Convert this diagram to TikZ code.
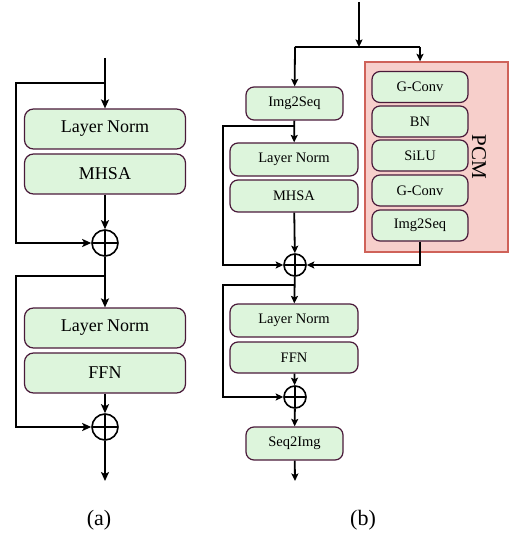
\documentclass[tikz,border=0pt]{standalone}
\usepackage{fontspec}
\setmainfont{Liberation Serif}
\usetikzlibrary{arrows.meta}
\definecolor{boxfill}{HTML}{DDF5DC}
\definecolor{boxline}{HTML}{4A1A3A}
\definecolor{pcmfill}{HTML}{F7CFCB}
\definecolor{pcmline}{HTML}{CF6259}
\tikzset{
  blk/.style={draw=boxline, fill=boxfill, rounded corners=9pt, line width=1.2pt, inner sep=0pt},
  blka/.style={blk, minimum width=161pt, minimum height=40pt, font=\fontsize{18}{20}\selectfont},
  blkb/.style={blk, minimum height=33pt, font=\fontsize{14.5}{16}\selectfont, rounded corners=8pt},
  blkp/.style={blk, minimum width=96pt, minimum height=31pt, font=\fontsize{14.5}{16}\selectfont, rounded corners=8pt},
  arr/.style={line width=2pt, -{Stealth[length=9pt,width=8pt,inset=2pt]}},
  arrb/.style={line width=1.8pt, -{Stealth[length=7.5pt,width=7pt,inset=1.5pt]}},
  ln/.style={line width=2pt},
  lnb/.style={line width=1.8pt},
  opl/.style={circle, draw, line width=1.6pt, inner sep=0pt, fill=white,
    path picture={\draw[line width=1.6pt] (path picture bounding box.north) -- (path picture bounding box.south)
      (path picture bounding box.west) -- (path picture bounding box.east);}},
  opla/.style={opl, minimum size=26pt},
  oplb/.style={opl, minimum size=22pt},
  captxt/.style={font=\fontsize{22}{24}\selectfont}
}
\begin{document}
\begin{tikzpicture}[x=1pt,y=-1pt]
\useasboundingbox (0,0) rectangle (510,534);
% ---------- (a) ----------
\node[blka] (ln1) at (105,129) {Layer Norm};
\node[blka] (mh1) at (105,174) {MHSA};
\node[opla] (p1) at (105,243) {};
\node[blka] (ln2) at (105,328) {Layer Norm};
\node[blka] (ffn) at (105,373) {FFN};
\node[opla] (p2) at (105,427) {};
\coordinate (atop) at (105,58);
\coordinate (ain) at (105,83);
\coordinate (aL1) at (16,83);
\coordinate (as2) at (105,276);
\coordinate (aL2) at (16,276);
\coordinate (aout) at (105,481);
\draw[arr] (atop) -- (ln1);
\draw[arr] (ain) -- (aL1) |- (p1);
\draw[arr] (mh1) -- (p1);
\draw[arr] (p1) -- (ln2);
\draw[arr] (as2) -- (aL2) |- (p2);
\draw[arr] (ffn) -- (p2);
\draw[arr] (p2) -- (aout);
\node[captxt] (capa) at (99,520) {(a)};
% ---------- (b) ----------
\node[draw=pcmline, fill=pcmfill, line width=1.3pt, minimum width=143pt, minimum height=190pt, inner sep=0pt] (pcm) at (436.5,157) {};
\node[rotate=-90, font=\fontsize{21}{23}\selectfont] (pcmlab) at (479,157) {PCM};
\node[blkp] (gc1) at (420,87) {G-Conv};
\node[blkp] (bn) at (420,121.5) {BN};
\node[blkp] (silu) at (420,155.5) {SiLU};
\node[blkp] (gc2) at (420,190.5) {G-Conv};
\node[blkp] (i2sb) at (420,225.5) {Img2Seq};
\node[blkb, minimum width=97pt] (i2s) at (294.5,103.5) {Img2Seq};
\node[blkb, minimum width=128pt, minimum height=33pt] (ln3) at (294,159.5) {Layer Norm};
\node[blkb, minimum width=128pt, minimum height=32pt] (mh3) at (294,196) {MHSA};
\node[oplb] (p3) at (295,265) {};
\node[blkb, minimum width=128pt, minimum height=33pt] (ln4) at (294,320.5) {Layer Norm};
\node[blkb, minimum width=128pt, minimum height=31pt] (ffn2) at (294,357.5) {FFN};
\node[oplb] (p4) at (295,397) {};
\node[blkb, minimum width=97pt] (s2i) at (294.5,443.5) {Seq2Img};
\coordinate (bin) at (359,2);
\coordinate (bsp) at (359,47);
\coordinate (bL) at (295,47);
\coordinate (bR) at (420,47);
\coordinate (bs1) at (295,126);
\coordinate (bL1) at (223,126);
\coordinate (bs2) at (295,285);
\coordinate (bL2) at (223,285);
\coordinate (bout) at (295,481);
\draw[arrb] (bin) -- (bsp);
\draw[lnb] (bL) -- (bR);
\draw[arrb] (bL) -- (i2s);
\draw[arrb] (bR) -- (bR |- pcm.north);
\draw[arrb] (i2s) -- (ln3);
\draw[arrb] (bs1) -- (bL1) |- (p3);
\draw[arrb] (mh3) -- (p3);
\draw[arrb] (i2sb.south) |- (p3);
\draw[arrb] (p3) -- (ln4);
\draw[arrb] (bs2) -- (bL2) |- (p4);
\draw[arrb] (ffn2) -- (p4);
\draw[arrb] (p4) -- (s2i);
\draw[arrb] (s2i) -- (bout);
\node[captxt] (capb) at (363,520) {(b)};
\end{tikzpicture}
\end{document}
